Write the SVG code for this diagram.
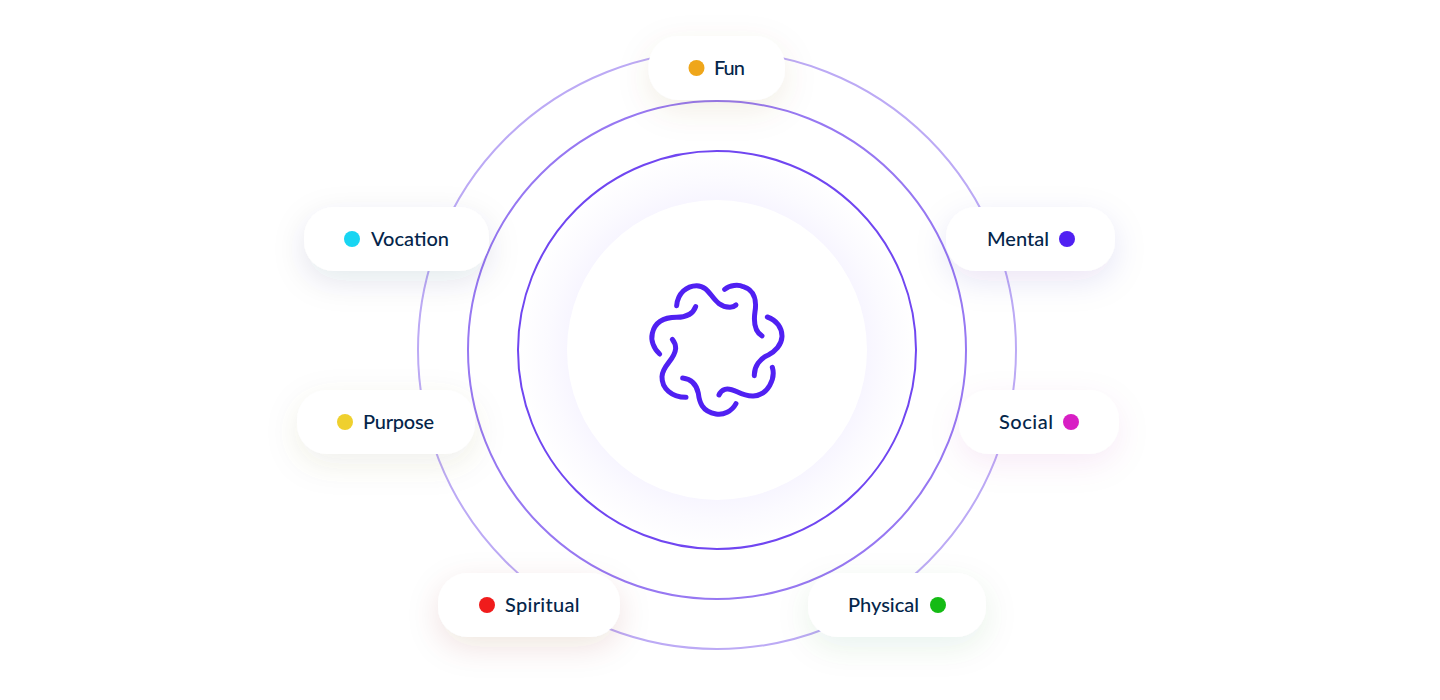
<svg xmlns="http://www.w3.org/2000/svg" width="1440" height="700" viewBox="0 0 1440 700">
<style>
.ring{fill:none;stroke-width:2}
.pill{fill:#fff}
.lbl{font-family:"Lato","Liberation Sans",sans-serif;font-size:20px;font-weight:500;fill:#04254a}
.logo path{fill:none;stroke:#5020f2;stroke-width:15;stroke-linecap:round}
</style>
<defs>
<radialGradient id="glow" gradientUnits="userSpaceOnUse" cx="717" cy="350" r="199">
<stop offset="0.74" stop-color="#f7f5ff"/><stop offset="0.85" stop-color="#fbfaff"/><stop offset="1" stop-color="#fff"/>
</radialGradient>
<filter id="sFun" x="-40%" y="-80%" width="180%" height="260%"><feDropShadow dx="0" dy="10" stdDeviation="16" flood-color="#80601a" flood-opacity=".1"/></filter>
<filter id="sVoc" x="-40%" y="-80%" width="180%" height="260%"><feDropShadow dx="0" dy="10" stdDeviation="16" flood-color="#0a4060" flood-opacity=".11"/></filter>
<filter id="sPur" x="-40%" y="-80%" width="180%" height="260%"><feDropShadow dx="0" dy="10" stdDeviation="16" flood-color="#706a30" flood-opacity=".1"/></filter>
<filter id="sMen" x="-40%" y="-80%" width="180%" height="260%"><feDropShadow dx="0" dy="10" stdDeviation="16" flood-color="#3a20a0" flood-opacity=".1"/></filter>
<filter id="sSoc" x="-40%" y="-80%" width="180%" height="260%"><feDropShadow dx="0" dy="10" stdDeviation="16" flood-color="#a02090" flood-opacity=".08"/></filter>
<filter id="sSpi" x="-40%" y="-80%" width="180%" height="260%"><feDropShadow dx="0" dy="10" stdDeviation="16" flood-color="#803020" flood-opacity=".12"/></filter>
<filter id="sPhy" x="-40%" y="-80%" width="180%" height="260%"><feDropShadow dx="0" dy="10" stdDeviation="16" flood-color="#207030" flood-opacity=".09"/></filter>
</defs>
<rect width="1440" height="700" fill="#fff"/>
<g id="rings">
<circle cx="717" cy="350" r="199" fill="url(#glow)"/>
<circle cx="717" cy="350" r="150" fill="#fff"/>
<circle class="ring" cx="717" cy="350" r="299" stroke="#bcaaf5"/>
<circle class="ring" cx="717" cy="350" r="249" stroke="#9778f2"/>
<circle class="ring" cx="717" cy="350" r="199" stroke="#7046f1"/>
</g>
<g id="logo" class="logo" transform="translate(630 270) scale(.3333)">
<path d="M140 107C143 70 170 47 200 47C245 47 245 110 300 112Q310 112 318 105"/>
<path d="M284 58C300 45 325 43 340 50C375 60 380 95 375 125C370 160 375 185 396 198"/>
<path d="M412 141C440 150 457 175 456 200C455 225 435 245 415 255C390 265 372 290 373 317"/>
<path d="M427 292C437 325 415 375 370 378C330 380 310 350 285 358Q272 362 267 375"/>
<path d="M318 401C305 425 280 436 258 432C215 425 208 395 205 370C200 345 185 327 158 324"/>
<path d="M168 382C125 382 95 355 96 320C97 285 135 270 137 235Q137 220 127 208"/>
<path d="M89 252C70 235 62 210 67 190C75 155 105 142 140 142C170 142 190 130 197 110"/>
</g>
<g id="node-fun"><rect class="pill" x="648.500" y="36" width="136.500" height="64" rx="30" filter="url(#sFun)"/><circle cx="696.500" cy="68" r="8" fill="#efa61a"/><text class="lbl" x="714" y="75" textLength="31">Fun</text></g>
<g id="node-vocation"><rect class="pill" x="304" y="207" width="185" height="64" rx="30" filter="url(#sVoc)"/><circle cx="352" cy="239" r="8" fill="#18d5f2"/><text class="lbl" x="371" y="246" textLength="78">Vocation</text></g>
<g id="node-purpose"><rect class="pill" x="297" y="390" width="178" height="64" rx="30" filter="url(#sPur)"/><circle cx="345" cy="422" r="8" fill="#efd02e"/><text class="lbl" x="363" y="429" textLength="71">Purpose</text></g>
<g id="node-mental"><rect class="pill" x="946" y="207" width="169" height="64" rx="30" filter="url(#sMen)"/><circle cx="1067" cy="239" r="8" fill="#5020f2"/><text class="lbl" x="987" y="246" textLength="62">Mental</text></g>
<g id="node-social"><rect class="pill" x="959" y="390" width="160" height="64" rx="30" filter="url(#sSoc)"/><circle cx="1071" cy="422" r="8" fill="#d81fc4"/><text class="lbl" x="999" y="429" textLength="54">Social</text></g>
<g id="node-spiritual"><rect class="pill" x="438" y="573" width="182" height="64" rx="30" filter="url(#sSpi)"/><circle cx="487" cy="605" r="8" fill="#f01c1c"/><text class="lbl" x="505" y="612" textLength="74.500">Spiritual</text></g>
<g id="node-physical"><rect class="pill" x="808" y="573" width="178" height="64" rx="30" filter="url(#sPhy)"/><circle cx="938" cy="605" r="8" fill="#14bb14"/><text class="lbl" x="848" y="612" textLength="71">Physical</text></g>
</svg>
